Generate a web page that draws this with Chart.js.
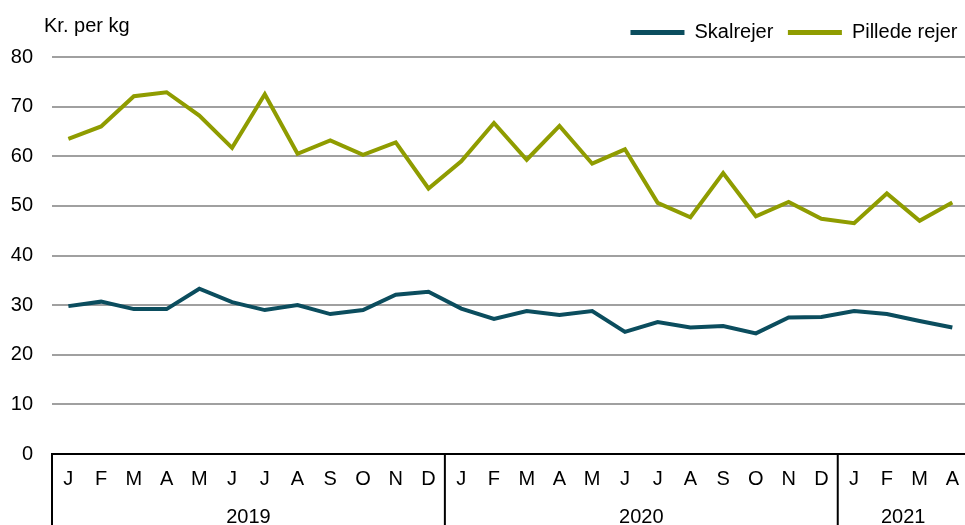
<!DOCTYPE html>
<html>
<head>
<meta charset="utf-8">
<script src="https://cdn.jsdelivr.net/npm/chart.js@4/dist/chart.umd.min.js"></script>
<style>
  html, body { margin: 0; padding: 0; background: #fff; overflow: hidden; }
  #wrap { width: 965px; height: 525px; overflow: hidden; }
</style>
</head>
<body>
<div id="wrap"><canvas id="chart" width="972" height="525"></canvas></div>
<script>
// Data
const months = ["J","F","M","A","M","J","J","A","S","O","N","D",
                "J","F","M","A","M","J","J","A","S","O","N","D",
                "J","F","M","A"];
const years = ["2019", "2020", "2021"];
const monthsPerYear = [12, 12, 4];

const skalrejer = [29.8, 30.7, 29.2, 29.2, 33.3, 30.6, 29.0, 30.0, 28.2, 29.0, 32.1, 32.7,
                   29.3, 27.2, 28.8, 28.0, 28.8, 24.6, 26.6, 25.5, 25.8, 24.3, 27.5, 27.6,
                   28.8, 28.2, 26.8, 25.5];
const pilledeRejer = [63.5, 66.0, 72.1, 72.9, 68.2, 61.7, 72.5, 60.5, 63.2, 60.3, 62.8, 53.5,
                      59.0, 66.7, 59.3, 66.1, 58.5, 61.4, 50.6, 47.7, 56.6, 47.9, 50.8, 47.4,
                      46.5, 52.5, 47.0, 50.7];

const FONT = "'Liberation Sans', Arial, sans-serif";
const teal = "#0b4d5e";
const olive = "#8f9c00";

// year groups below the month labels + unit label at the top
const yearAxis = {
  id: "yearAxis",
  beforeLayout(chart) {
    // a bit more room between legend and plot
    const lg = chart.legend;
    if (lg && !lg._patched) {
      const fit = lg.fit;
      lg.fit = function () { fit.call(this); this.height += 4.5; };
      lg._patched = true;
    }
  },
  afterDraw(chart) {
    const ctx = chart.ctx;
    const x = chart.scales.x;
    const area = chart.chartArea;
    ctx.save();
    ctx.strokeStyle = "#000";
    ctx.lineWidth = 2;
    ctx.fillStyle = "#000";
    ctx.font = "20px " + FONT;
    ctx.textAlign = "center";
    ctx.textBaseline = "middle";
    let start = 0;
    years.forEach((yr, i) => {
      const end = start + monthsPerYear[i];
      const left = start === 0 ? x.left : (x.getPixelForTick(start - 1) + x.getPixelForTick(start)) / 2;
      const right = end >= months.length ? x.right : (x.getPixelForTick(end - 1) + x.getPixelForTick(end)) / 2;
      ctx.beginPath();
      ctx.moveTo(left, area.bottom);
      ctx.lineTo(left, chart.height);
      ctx.stroke();
      ctx.fillText(yr, (left + right) / 2, 517);
      start = end;
    });
    ctx.textAlign = "left";
    ctx.textBaseline = "alphabetic";
    ctx.fillText("Kr. per kg", 44, 32);
    ctx.restore();
  }
};

new Chart(document.getElementById("chart"), {
  type: "line",
  plugins: [yearAxis],
  data: {
    labels: months,
    datasets: [
      { label: "Skalrejer", data: skalrejer, borderColor: teal, backgroundColor: teal,
        borderWidth: 4, pointRadius: 0, tension: 0, fill: false },
      { label: "Pillede rejer", data: pilledeRejer, borderColor: olive, backgroundColor: olive,
        borderWidth: 4, pointRadius: 0, tension: 0, fill: false }
    ]
  },
  options: {
    responsive: false,
    animation: false,
    layout: { padding: { top: 8, bottom: 21, left: 0, right: 0 } },
    plugins: {
      tooltip: { enabled: false },
      legend: {
        position: "top",
        align: "end",
        labels: {
          boxWidth: 54,
          boxHeight: 5,
          padding: 14.5,
          color: "#000",
          font: { family: FONT, size: 20 },
          generateLabels(chart) {
            const items = Chart.defaults.plugins.legend.labels.generateLabels(chart);
            items.forEach(it => { it.lineWidth = 0; });
            return items;
          }
        }
      }
    },
    scales: {
      x: {
        offset: true,
        grid: { display: true, drawOnChartArea: false, drawTicks: false },
        border: { display: true, color: "#000", width: 2 },
        ticks: {
          autoSkip: false, maxRotation: 0, padding: 13,
          color: "#000", font: { family: FONT, size: 20 }
        }
      },
      y: {
        min: 0, max: 80,
        afterFit(scale) { scale.width = 52; },
        grid: {
          drawTicks: false,
          lineWidth: 2,
          color: (c) => (c.tick && c.tick.value === 0) ? "rgba(0,0,0,0)" : "#a0a0a0"
        },
        border: { display: false },
        ticks: {
          stepSize: 10, padding: 19,
          color: "#000", font: { family: FONT, size: 20 }
        }
      }
    }
  }
});
</script>
</body>
</html>
